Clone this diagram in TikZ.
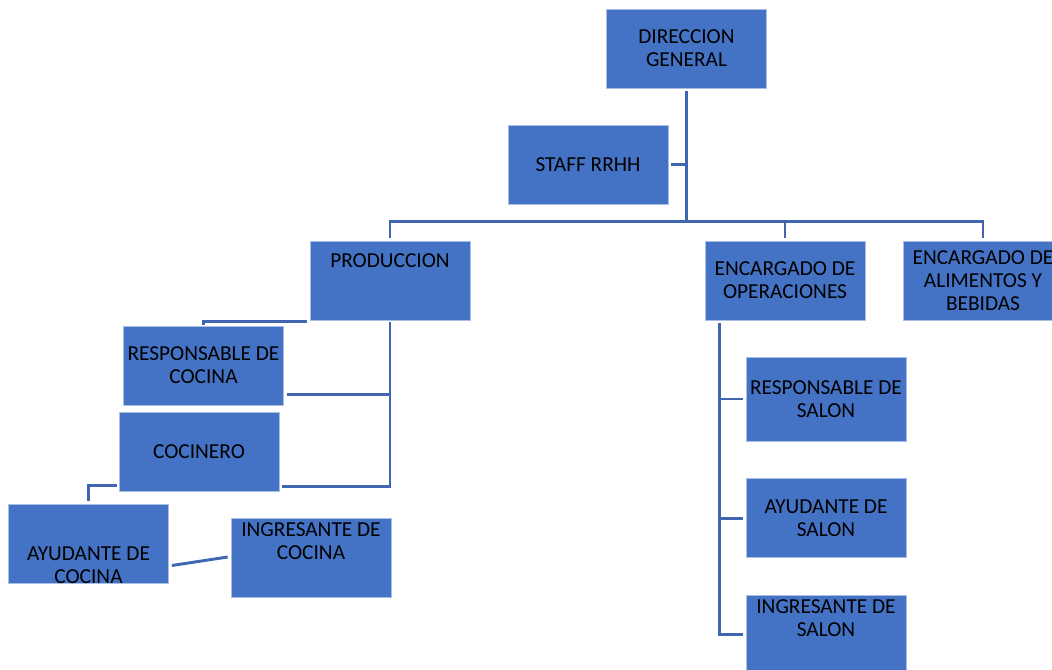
\documentclass[tikz,border=0pt]{standalone}
\usepackage{fontspec}
\setmainfont{Carlito}
\usepackage{tikz}
\usetikzlibrary{positioning, calc}
\usepackage{xcolor}
\definecolor{boxblue}{HTML}{4472C4}
\definecolor{boxedge}{HTML}{A9BFE6}
\definecolor{lineblue}{HTML}{3F66AE}
\newcommand{\boxfont}{\fontsize{16}{17.3}\selectfont}
\tikzstyle{conn} = [line width=2.2pt, color=lineblue]

\begin{document}
\begin{tikzpicture}[
    x=0.75pt, y=-0.75pt,
    node distance=27.75pt and 20pt,
    orgbox/.style={rectangle, fill=boxblue, draw=boxedge, line width=0.5pt,
                   minimum width=120pt, minimum height=59.25pt, inner sep=1pt,
                   align=center, font=\boxfont, text=black},
    boxtext/.style={align=center, font=\boxfont, text=black, inner sep=0pt}
]
    \clip (0,0) rectangle (1052,670);

    % Top: direction + staff
    \node[orgbox] (dir) at (686.5,48.5) {DIRECCION\\GENERAL};
    \node[orgbox] (staff) at (588,164.5) {STAFF RRHH};

    % Row 2: the three areas
    \node[orgbox, label={[boxtext, yshift=14.6pt]center:PRODUCCION}] (prod) at (390,280.5) {};
    \node[orgbox] (oper) at (785,280.5) {ENCARGADO DE\\OPERACIONES};
    \node[orgbox] (alim) at (983,280.5) {ENCARGADO DE\\ALIMENTOS Y\\BEBIDAS};

    % Kitchen side
    \node[orgbox] (resp) at (203.5,365.5) {RESPONSABLE DE\\COCINA};
    \node[orgbox] (coc) at (199,451.5) {COCINERO};
    \node[orgbox, label={[boxtext, yshift=-16.5pt]center:AYUDANTE DE\\COCINA}] (ayud) at (88.5,543.5) {};
    \node[orgbox, label={[boxtext, yshift=12pt]center:INGRESANTE DE\\COCINA}] (ingc) at (311,557.5) {};

    % Salon side
    \node[orgbox, minimum height=63pt] (rsal) at (826,399) {RESPONSABLE DE\\SALON};
    \node[orgbox, below=of rsal] (asal) {AYUDANTE DE\\SALON};
    \node[orgbox, below=of asal, label={[boxtext, yshift=12.75pt]center:INGRESANTE DE\\SALON}] (isal) {};

    % Connectors
    \coordinate (bus) at ($(dir.south)+(0,133)$);
    \draw[conn] ($(dir.south)+(0,3)$) -- (bus);
    \draw[conn] ($(staff.east)+(3,0)$) -- (staff.east -| bus);
    \draw[conn] ($(prod.north)+(0,-3)$) -- (prod.north |- bus) -- (alim.north |- bus) -- ($(alim.north)+(0,-3)$);
    \draw[conn] ($(oper.north)+(0,-3)$) -- (oper.north |- bus);

    \coordinate (prodbus) at ($(prod.south)+(0,2)$);
    \draw[conn] (prodbus) |- ($(coc.south east)+(3,-5)$);
    \draw[conn] ($(resp.south east)+(3,-11)$) -- (prodbus |- {$(resp.south east)+(0,-11)$});
    \draw[conn] ($(prod.south west)+(-3,1)$) -| ($(resp.north)+(0,-1)$);
    \draw[conn] ($(coc.south west)+(-2,-6)$) -| ($(ayud.north)+(0,-3)$);
    \draw[conn] ($(ayud.east)+(3,22)$) -- ($(ingc.west)+(-3,-0.5)$);

    \coordinate (opbus) at ($(oper.south west)+(15,3)$);
    \draw[conn] (opbus) |- ($(isal.west)+(-3,0)$);
    \draw[conn] (opbus |- rsal.west) -- ($(rsal.west)+(-3,0)$);
    \draw[conn] (opbus |- asal.west) -- ($(asal.west)+(-3,0)$);
\end{tikzpicture}
\end{document}
